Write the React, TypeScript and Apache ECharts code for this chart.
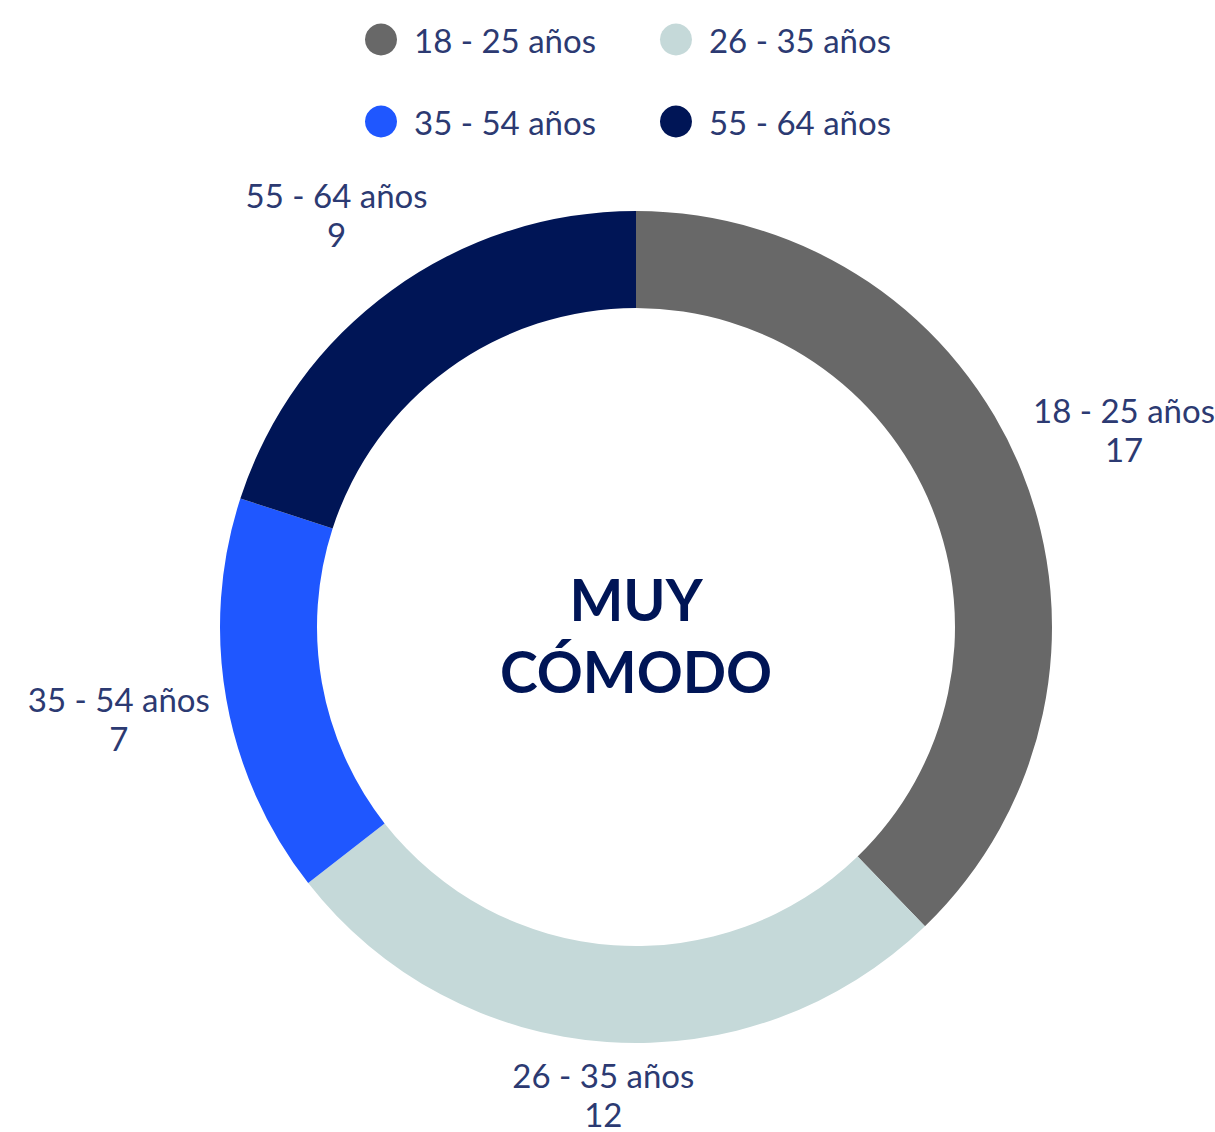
import React, { useEffect, useRef } from "react";
import * as echarts from "echarts";

const categories = ["18 - 25 años", "26 - 35 años", "35 - 54 años", "55 - 64 años"];
const values = [17, 12, 7, 9];
const colors = ["#686868", "#c5d9d9", "#1f57ff", "#001556"];
const centerLines = ["MUY", "CÓMODO"];

const W = 1215;
const H = 1132;
const CX = 636;
const CY = 627;
const R_IN = 319;
const R_OUT = 416;
const GAP = 14;
const TEXT = "#2c3a72";

export default function App() {
  const ref = useRef<HTMLDivElement>(null);
  useEffect(() => {
    document.body.style.margin = "0";
    const chart = echarts.init(ref.current!, null, { renderer: "svg" });
    const total = values.reduce((a, b) => a + b, 0);
    const legendBase = {
      left: 360,
      icon: "circle",
      itemWidth: 32,
      itemHeight: 32,
      itemGap: 64,
      textStyle: {
        fontFamily: "Lato",
        fontSize: 33,
        color: TEXT,
        padding: [0, 0, 0, 12],
        lineHeight: 32,
      },
    };
    chart.setOption({
      animation: false,
      color: colors,
      legend: [
        { ...legendBase, top: 18, data: categories.slice(0, 2) },
        { ...legendBase, top: 100, data: categories.slice(2, 4) },
      ],
      graphic: [
        {
          type: "text",
          x: CX,
          y: CY + 8,
          style: {
            text: centerLines.join("\n"),
            fontFamily: "Lato",
            fontWeight: "bold",
            fontSize: 57,
            lineHeight: 72,
            fill: "#001556",
            align: "center",
            verticalAlign: "middle",
          },
        },
      ],
      series: [
        {
          type: "pie",
          center: [CX, CY],
          radius: [R_IN, R_OUT],
          startAngle: 90,
          clockwise: true,
          avoidLabelOverlap: false,
          label: {
            show: true,
            position: "outside",
            formatter: "{b}\n{c}",
            fontFamily: "Lato",
            fontSize: 33,
            lineHeight: 39,
            color: TEXT,
          },
          labelLine: { show: false },
          labelLayout: (p: any) => {
            const i = p.dataIndex;
            let before = 0;
            for (let j = 0; j < i; j++) before += values[j];
            const mid = ((before + values[i] / 2) / total) * Math.PI * 2;
            const s = Math.sin(mid);
            const c = Math.cos(mid);
            const hw = p.labelRect.width / 2;
            const hh = (p.labelRect.height / 2) * 0.82;
            const r = R_OUT + GAP + hw * Math.abs(s) + hh * Math.abs(c);
            return {
              x: CX + s * r,
              y: CY - c * r,
              align: "center",
              verticalAlign: "middle",
            };
          },
          emphasis: { disabled: true },
          data: categories.map((name, i) => ({ name, value: values[i] })),
        },
      ],
    });
    return () => chart.dispose();
  }, []);
  return <div ref={ref} style={{ width: W, height: H }} />;
}
